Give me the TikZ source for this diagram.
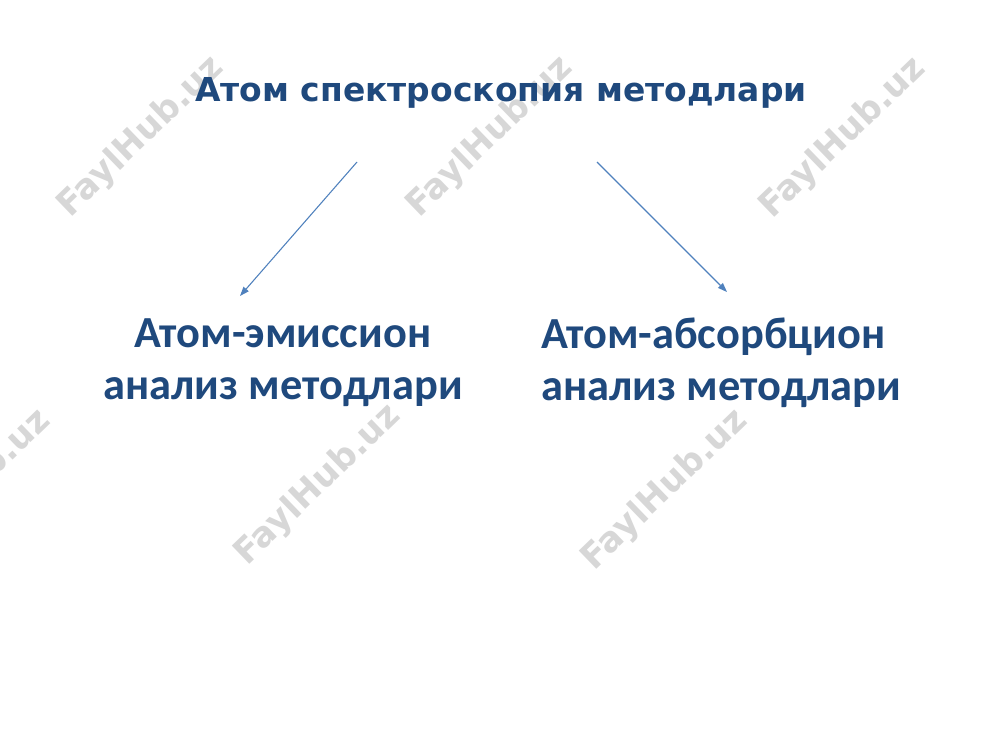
\documentclass[tikz,border=0pt]{standalone}
\usepackage{fontspec}
\setmainfont{Carlito}
\newfontfamily\titlefont{DejaVu Sans}
\newfontfamily\wmfont{DejaVu Sans}
\usetikzlibrary{arrows.meta}
\definecolor{titleblue}{RGB}{31,73,125}
\definecolor{arrowblue}{RGB}{79,129,189}
\definecolor{wmgray}{RGB}{215,215,215}
\tikzset{
  wm/.style={text=wmgray, font=\wmfont\bfseries\fontsize{26}{30}\selectfont, rotate=44, inner sep=0pt},
  headline/.style={text=titleblue, font=\titlefont\bfseries\fontsize{24.7}{28}\selectfont, inner sep=0pt},
  box/.style={text=titleblue, font=\bfseries\fontsize{33.3}{39}\selectfont, inner sep=0pt},
  conn/.style={draw=arrowblue, line width=0.8pt, -{Triangle[length=7pt,width=5pt]}}
}
\begin{document}
\begin{tikzpicture}[x=0.75pt,y=-0.75pt]
\useasboundingbox (0,0) rectangle (1000,750);
\fill[white] (0,0) rectangle (1000,750);
% watermarks
\node[wm] (w1) at (141,137) {FaylHub.uz};
\node[wm] (w2) at (490,137) {FaylHub.uz};
\node[wm] (w3) at (843,138) {FaylHub.uz};
\node[wm] (w4) at (-32,490) {FaylHub.uz};
\node[wm] (w5) at (318,485) {FaylHub.uz};
\node[wm] (w6) at (665,490) {FaylHub.uz};
% title
\node[headline] (title) at (501,93) {Атом спектроскопия методлари};
\coordinate (tl) at (357,162);
\coordinate (tr) at (597,162);
% boxes
\node[box, align=center] (left) at (283,363) {Атом-эмиссион\\анализ методлари};
\node[box, align=left, anchor=west] (right) at (541,363) {Атом-абсорбцион\\анализ методлари};
\coordinate (la) at (240,296);
\coordinate (ra) at (727,292);
\draw[conn] (tl) -- (la);
\draw[conn] (tr) -- (ra);
\end{tikzpicture}
\end{document}
